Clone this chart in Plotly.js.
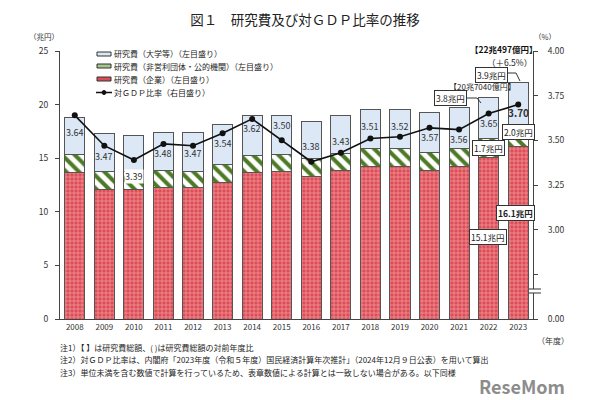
<!DOCTYPE html>
<html>
<head>
<meta charset="utf-8">
<script src="https://cdn.plot.ly/plotly-3.0.1.min.js"></script>
<style>html,body{margin:0;padding:0;background:#fff;}#chart{width:610px;height:400px;}</style>
</head>
<body>
<div id="chart"></div>
<script>
// ---- data ----
const years = ['2008','2009','2010','2011','2012','2013','2014','2015','2016','2017','2018','2019','2020','2021','2022','2023'];
const company = [13.66, 12.07, 12.07, 12.31, 12.26, 12.72, 13.62, 13.78, 13.31, 13.87, 14.27, 14.24, 13.87, 14.27, 15.10, 16.10];
const nonprofit = [1.68, 1.71, 1.71, 1.56, 1.52, 1.68, 1.65, 1.56, 1.65, 1.56, 1.63, 1.66, 1.70, 1.63, 1.75, 2.00];
const university = [3.50, 3.51, 3.38, 3.57, 3.60, 3.73, 3.76, 3.60, 3.51, 3.60, 3.63, 3.66, 3.68, 3.82, 3.85, 3.95];
const ratio = [3.64, 3.47, 3.39, 3.48, 3.47, 3.54, 3.62, 3.50, 3.38, 3.43, 3.51, 3.52, 3.57, 3.56, 3.65, 3.70];
const ratioLabels = ratio.map(v => v.toFixed(2));
const seriesNames = ['研究費（大学等）（左目盛り）', '研究費（非営利団体・公的機関）（左目盛り）', '研究費（企業）（左目盛り）', '対ＧＤＰ比率（右目盛り）'];
const rightTickVals = [2.5, 2.75, 3.0, 3.25, 3.5, 3.75, 4.0];
const rightTickText = ['0.00', '', '3.00', '3.25', '3.50', '3.75', '4.00'];

// label offsets (layout only, px; + = up)
const labelShift = [-17, -11, -17, -10, -8, -10, -10, 15, 15, 11, 12, 10, -10, -10, -10, -8];

// ---- layout helpers ----
const W = 610, H = 400, ML = 60, MR = 77, MT = 51, MB = 81;
const PW = W - ML - MR, PH = H - MT - MB;
const px = x => (x - ML) / PW;
const py = y => (H - MB - y) / PH;
const FONT = '"Noto Sans CJK JP", "Noto Sans", sans-serif';
const EDGE = '#555';

const traces = [
  {type:'bar', name: seriesNames[2], x: years, y: company, yaxis:'y',
   marker:{color:'#de4d55', line:{color:EDGE, width:1},
           pattern:{shape:'+', fgcolor:'#f3b3b6', bgcolor:'#de4d55', size:4, solidity:0.25}},
   hoverinfo:'skip'},
  {type:'bar', name: seriesNames[1], x: years, y: nonprofit, yaxis:'y',
   marker:{color:'#ffffff', line:{color:EDGE, width:1},
           pattern:{shape:'\\', fgcolor:'#4d7b25', bgcolor:'#ffffff', size:9, solidity:0.45}},
   hoverinfo:'skip'},
  {type:'bar', name: seriesNames[0], x: years, y: university, yaxis:'y',
   marker:{color:'#dce8f6', line:{color:EDGE, width:1}}, hoverinfo:'skip'},
  {type:'scatter', mode:'lines+markers', name: seriesNames[3], x: years, y: ratio, yaxis:'y2',
   line:{color:'#111', width:1.6}, marker:{color:'#111', size:6}, hoverinfo:'skip'}
];

const annotations = [];
const shapes = [];

// ratio labels (category axis: use the category's serial index)
years.forEach((yr, i) => {
  const last = i === years.length - 1;
  const a = {x: i, y: ratio[i], xref:'x', yref:'y2', text: last ? '<b>' + ratioLabels[i] + '</b>' : ratioLabels[i],
    showarrow:false, yshift: labelShift[i], font:{family:FONT, size: last ? 10 : 9, color:'#333'}, borderpad: 0};
  if (i === 2) a.bgcolor = '#ffffff';
  annotations.push(a);
});

// text helper in pixel coords
function txt(x, y, text, opts) {
  opts = opts || {};
  annotations.push(Object.assign({x: px(x), y: py(y), xref:'paper', yref:'paper', text: text, showarrow:false,
    xanchor: opts.xanchor || 'center', yanchor:'middle',
    font:{family:FONT, size: opts.size || 8.5, color: opts.color || '#333'}}, opts.extra || {}));
}
function box(x, y, text, opts) {
  opts = opts || {};
  txt(x, y, text, {size: opts.size || 8.5, color:'#222',
    extra:{bgcolor:'#fff', bordercolor:'#333', borderwidth:1, borderpad:1}});
}
function line(pts) {
  const d = pts.map((p, k) => (k ? 'L' : 'M') + px(p[0]) + ',' + py(p[1])).join(' ');
  shapes.push({type:'path', xref:'paper', yref:'paper', path: d, line:{color:'#333', width:1}});
}

// axis unit labels
txt(44, 37, '（兆円）', {size: 7.5});
txt(545, 37, '（%）', {size: 7.5});
txt(553, 340, '（年度）', {size: 8});

// callouts
txt(504, 49, '<b>【22兆497億円】</b>', {size: 8.5, color:'#111'});
txt(509, 62, '（＋6.5%）', {size: 8.5, color:'#222'});
box(491, 74.5, '3.9兆円');
line([[507, 73], [516, 73], [520, 81]]);
txt(482, 86.5, '【20兆7040億円】', {size: 8, color:'#222'});
box(450, 98, '3.8兆円');
line([[466, 98], [477, 98], [481, 103]]);
box(488, 147.5, '1.7兆円');
box(518, 131.5, '2.0兆円');
box(515, 213, '<b>16.1兆円</b>');
box(488, 237.5, '15.1兆円');

// legend (custom)
const legY = [54, 66, 79, 92];
shapes.push({type:'rect', xref:'paper', yref:'paper', x0:px(97), x1:px(111), y0:py(52), y1:py(56), fillcolor:'#dce8f6', line:{color:'#333', width:1}});
shapes.push({type:'rect', xref:'paper', yref:'paper', x0:px(97), x1:px(111), y0:py(64), y1:py(68), fillcolor:'#a8c48c', line:{color:'#333', width:1}});
shapes.push({type:'rect', xref:'paper', yref:'paper', x0:px(97), x1:px(111), y0:py(77), y1:py(81), fillcolor:'#de4d55', line:{color:'#333', width:1}});
shapes.push({type:'line', xref:'paper', yref:'paper', x0:px(96), x1:px(112), y0:py(92.5), y1:py(92.5), line:{color:'#111', width:1.5}});
shapes.push({type:'circle', xref:'paper', yref:'paper', x0:px(102), x1:px(106), y0:py(90.5), y1:py(94.5), fillcolor:'#111', line:{color:'#111', width:1}});
[0, 1, 2, 3].forEach(k => txt(112, legY[k], seriesNames[k], {xanchor:'left', size: 8, color:'#222'}));

// right axis break mark
shapes.push({type:'rect', xref:'paper', yref:'paper', x0:px(529), x1:px(541), y0:py(293), y1:py(289), fillcolor:'#fff', line:{width:0}});
shapes.push({type:'line', xref:'paper', yref:'paper', x0:px(529), x1:px(541), y0:py(289), y1:py(289), line:{color:'#333', width:1}});
shapes.push({type:'line', xref:'paper', yref:'paper', x0:px(529), x1:px(541), y0:py(293), y1:py(293), line:{color:'#333', width:1}});

// footnotes
txt(58, 347, '注1）【 】は研究費総額、( )は研究費総額の対前年度比', {xanchor:'left', size: 8, color:'#222'});
txt(58, 359.5, '注2）対ＧＤＰ比率は、内閣府「2023年度（令和５年度）国民経済計算年次推計」（2024年12月９日公表）を用いて算出', {xanchor:'left', size: 8, color:'#222'});
txt(58, 372, '注3）単位未満を含む数値で計算を行っているため、表章数値による計算とは一致しない場合がある。以下同様', {xanchor:'left', size: 8, color:'#222'});

// watermark
txt(522, 386, '<b>ReseMom</b>', {size: 18, color:'#8c8c8c'});

const layout = {
  width: W, height: H,
  margin: {l: ML, r: MR, t: MT, b: MB},
  paper_bgcolor:'#fff', plot_bgcolor:'#fff',
  font: {family: FONT, size: 8.5, color:'#333'},
  title: {text:'図１　研究費及び対ＧＤＰ比率の推移', x:0.5, xref:'container', y: 1 - 20/H, yref:'container', yanchor:'middle',
          font:{family: FONT, size: 13.5, color:'#222'}},
  barmode: 'stack', bargap: 0.32,
  showlegend: false,
  xaxis: {type:'category', range:[-0.5, 15.5], showline:true, linecolor:'#444', linewidth:1, ticks:'', showgrid:false,
          tickfont:{family:FONT, size:8, color:'#333'}, fixedrange:true},
  yaxis: {range:[0, 25], tickvals:[0,5,10,15,20,25], showline:true, linecolor:'#444', linewidth:1, ticks:'outside', ticklen:4,
          tickcolor:'#444', showgrid:false, zeroline:false, tickfont:{family:FONT, size:8.5, color:'#333'}, ticklabelstandoff: 5},
  yaxis2: {overlaying:'y', side:'right', range:[2.5, 4.0], tickvals: rightTickVals, ticktext: rightTickText,
           showline:true, linecolor:'#444', linewidth:1, ticks:'outside', ticklen:4, tickcolor:'#444', showgrid:false, zeroline:false,
           tickfont:{family:FONT, size:8.5, color:'#333'}, ticklabelstandoff: 8},
  annotations: annotations,
  shapes: shapes
};

Plotly.newPlot('chart', traces, layout, {staticPlot:true, displayModeBar:false});
</script>
</body>
</html>
